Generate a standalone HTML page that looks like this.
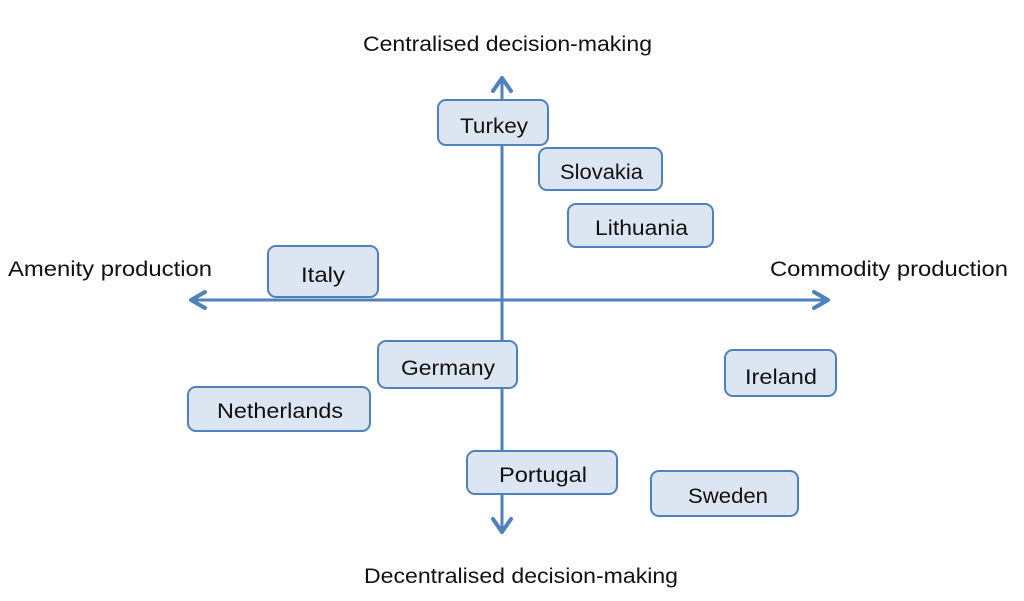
<!DOCTYPE html>
<html><head><style>
body{margin:0;background:#fff;width:1024px;height:596px;overflow:hidden}
svg text{font-family:"Liberation Sans",sans-serif;fill:#111}
</style></head><body>
<svg width="1024" height="596" viewBox="0 0 1024 596">
<g stroke="#4f81bd" stroke-width="3" fill="none" stroke-linecap="round" stroke-linejoin="round">
<line x1="502" y1="80" x2="502" y2="530"/>
<polyline points="493,91 502,78 511,91" stroke-width="4"/>
<polyline points="493,519 502,532 511,519" stroke-width="4"/>
<line x1="192" y1="300" x2="827" y2="300"/>
<polyline points="205,292 191,300 205,308" stroke-width="4"/>
<polyline points="814,292 828,300 814,308" stroke-width="4"/>
</g>
<g fill="#dce6f2" stroke="#4f81bd" stroke-width="2">
<rect x="438" y="100" width="110" height="45" rx="8"/>
<rect x="539" y="148" width="123" height="42" rx="8"/>
<rect x="568" y="204" width="145" height="43" rx="8"/>
<rect x="268" y="246" width="110" height="51" rx="8"/>
<rect x="378" y="341" width="139" height="47" rx="8"/>
<rect x="188" y="387" width="182" height="44" rx="8"/>
<rect x="725" y="350" width="111" height="46" rx="8"/>
<rect x="467" y="451" width="150" height="43" rx="8"/>
<rect x="651" y="471" width="147" height="45" rx="8"/>
</g>
<g font-size="21" lengthAdjust="spacingAndGlyphs">
<text x="460" y="133" textLength="68" lengthAdjust="spacingAndGlyphs">Turkey</text>
<text x="560" y="179" textLength="83" lengthAdjust="spacingAndGlyphs">Slovakia</text>
<text x="595" y="235" textLength="93" lengthAdjust="spacingAndGlyphs">Lithuania</text>
<text x="301" y="282" textLength="44" lengthAdjust="spacingAndGlyphs">Italy</text>
<text x="401" y="375" textLength="94" lengthAdjust="spacingAndGlyphs">Germany</text>
<text x="217" y="418" textLength="126" lengthAdjust="spacingAndGlyphs">Netherlands</text>
<text x="745" y="384" textLength="72" lengthAdjust="spacingAndGlyphs">Ireland</text>
<text x="499" y="482" textLength="88" lengthAdjust="spacingAndGlyphs">Portugal</text>
<text x="688" y="503" textLength="80" lengthAdjust="spacingAndGlyphs">Sweden</text>
<text x="363" y="51" textLength="289" lengthAdjust="spacingAndGlyphs">Centralised decision-making</text>
<text x="364" y="583" textLength="314" lengthAdjust="spacingAndGlyphs">Decentralised decision-making</text>
<text x="8" y="276" textLength="204" lengthAdjust="spacingAndGlyphs">Amenity production</text>
<text x="770" y="276" textLength="238" lengthAdjust="spacingAndGlyphs">Commodity production</text>
</g>
</svg>
</body></html>
